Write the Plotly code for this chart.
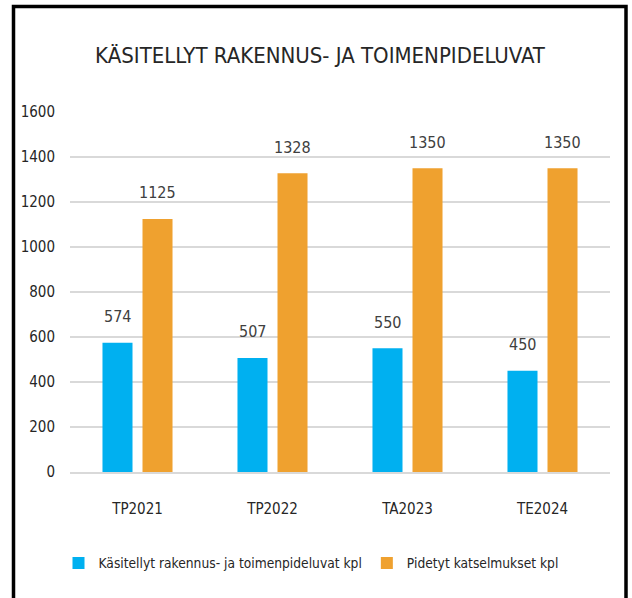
import plotly.graph_objects as go

categories = ["TP2021", "TP2022", "TA2023", "TE2024"]
series_names = ["Käsitellyt rakennus- ja toimenpideluvat kpl", "Pidetyt katselmukset kpl"]
luvat = [574, 507, 550, 450]
katselmukset = [1125, 1328, 1350, 1350]
y_ticks = [0, 200, 400, 600, 800, 1000, 1200, 1400, 1600]
title_text = "KÄSITELLYT RAKENNUS- JA TOIMENPIDELUVAT"

colors = ["#00B0F0", "#EFA12F"]
FONT = "DejaVu Sans Condensed, Liberation Sans Narrow, sans-serif"

W, H = 632, 598
L, R, T, B = 70, 22, 112, 126
pw = W - L - R
ph = H - T - B

fig = go.Figure()
for name, vals, col in zip(series_names, [luvat, katselmukset], colors):
    fig.add_trace(go.Bar(x=categories, y=vals, name=name, marker_color=col,
                         marker_line_width=0))

# data labels
for vals, shift in [(luvat, -20), (katselmukset, 20)]:
    for c, v in zip(categories, vals):
        fig.add_annotation(x=c, y=v, text=str(v), showarrow=False,
                           xshift=shift, yshift=26, yanchor="middle",
                           font=dict(family=FONT, size=16, color="#404040"))

def px_to_paper_x(px):
    return (px - L) / pw

def px_to_paper_y(py):
    return (H - B - py) / ph

# outer black frame
fig.add_shape(type="rect", xref="paper", yref="paper",
              x0=px_to_paper_x(13.5), x1=px_to_paper_x(626),
              y0=px_to_paper_y(612), y1=px_to_paper_y(6.5),
              line=dict(color="black", width=3.5), fillcolor="rgba(0,0,0,0)")

fig.update_layout(
    width=W, height=H,
    margin=dict(l=L, r=R, t=T, b=B),
    paper_bgcolor="white", plot_bgcolor="white",
    barmode="group", bargap=0.407, bargroupgap=0.25,
    title=dict(text=title_text, xref="container", x=320 / W, xanchor="center",
               yref="container", y=1 - 55 / H, yanchor="middle",
               font=dict(family=FONT, size=22, color="#262626")),
    font=dict(family=FONT, size=15, color="#262626"),
    legend=dict(orientation="h", xref="paper", x=px_to_paper_x(311), xanchor="center",
                yref="paper", y=px_to_paper_y(563), yanchor="middle",
                font=dict(family=FONT, size=13.7, color="#262626"),
                itemwidth=30, traceorder="normal"),
    yaxis=dict(range=[0, 1600], tickvals=y_ticks, showgrid=True,
               gridcolor="#D9D9D9", gridwidth=2, zeroline=False,
               ticks="", ticklabelstandoff=14,
               tickfont=dict(family=FONT, size=15, color="#262626")),
    xaxis=dict(showline=True, linecolor="#D9D9D9", linewidth=2, ticks="",
               ticklabelstandoff=22,
               tickfont=dict(family=FONT, size=15, color="#262626")),
)

fig.write_html("out.html", config={"displayModeBar": False},
               post_script="document.body.style.margin='0px';")
